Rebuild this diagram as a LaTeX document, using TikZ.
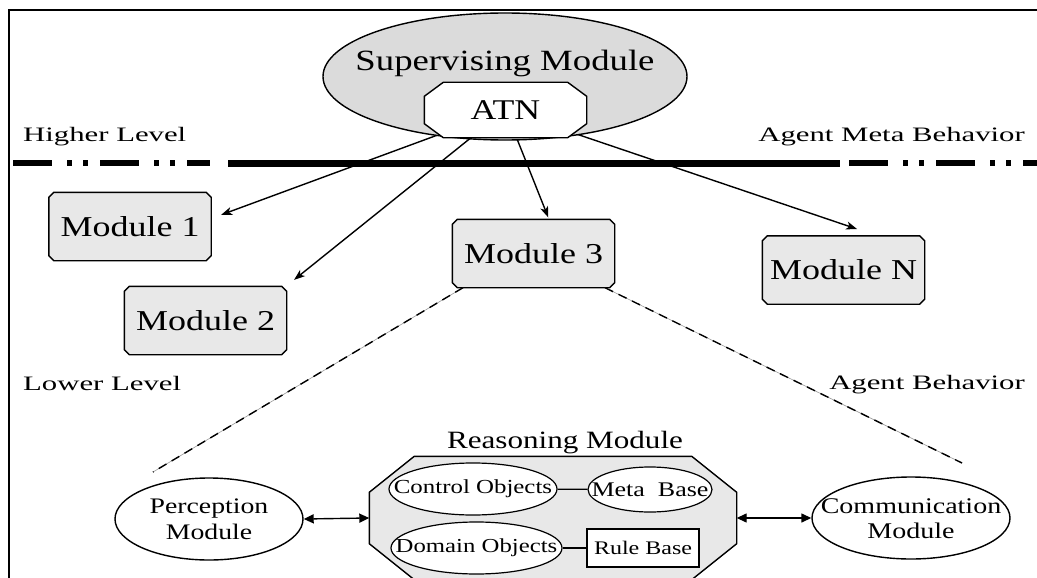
\documentclass[tikz,border=0pt]{standalone}
\usepackage{fontspec}
\setmainfont{Liberation Serif}[FakeStretch=1.25]
\newfontfamily\lblfont{Liberation Serif}[FakeStretch=1.5]
\usetikzlibrary{shapes.geometric,arrows.meta,calc,backgrounds}
\makeatletter
\newdimen\oct@xa \newdimen\oct@ya \newdimen\oct@xb \newdimen\oct@yb
\newdimen\oct@cx \newdimen\oct@cy
\def\octcx{6pt}\def\octcy{6pt}
\tikzset{octcx/.code={\def\octcx{#1}}, octcy/.code={\def\octcy{#1}}}
\pgfdeclareshape{octo}{%
  \inheritsavedanchors[from=rectangle]%
  \inheritanchorborder[from=rectangle]%
  \inheritanchor[from=rectangle]{center}%
  \inheritanchor[from=rectangle]{north}%
  \inheritanchor[from=rectangle]{south}%
  \inheritanchor[from=rectangle]{east}%
  \inheritanchor[from=rectangle]{west}%
  \inheritanchor[from=rectangle]{north east}%
  \inheritanchor[from=rectangle]{north west}%
  \inheritanchor[from=rectangle]{south east}%
  \inheritanchor[from=rectangle]{south west}%
  \inheritanchor[from=rectangle]{text}%
  \inheritanchor[from=rectangle]{base}%
  \inheritanchor[from=rectangle]{mid}%
  \backgroundpath{%
    \southwest \oct@xa=\pgf@x \oct@ya=\pgf@y
    \northeast \oct@xb=\pgf@x \oct@yb=\pgf@y
    \pgfmathsetlength\oct@cx{\octcx}%
    \pgfmathsetlength\oct@cy{\octcy}%
    \pgfpathmoveto{\pgfqpoint{\dimexpr\oct@xa+\oct@cx\relax}{\oct@ya}}%
    \pgfpathlineto{\pgfqpoint{\dimexpr\oct@xb-\oct@cx\relax}{\oct@ya}}%
    \pgfpathlineto{\pgfqpoint{\oct@xb}{\dimexpr\oct@ya+\oct@cy\relax}}%
    \pgfpathlineto{\pgfqpoint{\oct@xb}{\dimexpr\oct@yb-\oct@cy\relax}}%
    \pgfpathlineto{\pgfqpoint{\dimexpr\oct@xb-\oct@cx\relax}{\oct@yb}}%
    \pgfpathlineto{\pgfqpoint{\dimexpr\oct@xa+\oct@cx\relax}{\oct@yb}}%
    \pgfpathlineto{\pgfqpoint{\oct@xa}{\dimexpr\oct@yb-\oct@cy\relax}}%
    \pgfpathlineto{\pgfqpoint{\oct@xa}{\dimexpr\oct@ya+\oct@cy\relax}}%
    \pgfpathclose
  }%
}
\makeatother
\begin{document}
\begin{tikzpicture}[x=1pt,y=-1pt,
  mod/.style={octo, octcx=5pt, octcy=5pt,
    draw, line width=1.4pt, fill=black!9, minimum width=161pt, minimum height=67pt,
    inner sep=0pt, font=\fontsize{28.8}{32}\selectfont},
  lbl/.style={inner sep=0pt, font=\lblfont\fontsize{20.5}{24}\selectfont},
  arr/.style={line width=1.4pt, -{Stealth[length=11pt,width=8pt,inset=3pt]}},
  dbl/.style={line width=1.4pt, {Triangle[length=10pt,width=9pt]}-{Triangle[length=10pt,width=9pt]}},
  obj/.style={ellipse, draw, line width=1.2pt, fill=white, inner sep=0pt},
  bigell/.style={ellipse, draw, line width=1.4pt, fill=white, inner sep=0pt},
  lowdash/.style={draw=black!40, line width=0.6pt,
    postaction={draw=black, line width=1.4pt, dash pattern=on 9pt off 6pt}},
  ddash/.style={line width=6.5pt, dash pattern=on 39pt off 15pt on 5pt off 11pt on 5pt off 12pt}
]
\clip (0,0) rectangle (1037,578);
\begin{scope}[on background layer]
  \fill[white] (0,0) rectangle (1037,578);
\end{scope}

% frame
\draw[line width=2pt] (9,590) -- (9,10.5) -- (1045,10.5);

% level separator
\draw[ddash] (13,163) -- (210,163);
\draw[line width=7pt] (228,163) -- (840,163);
\draw[ddash] (849,163) -- (1045,163);

% supervising module
\node[ellipse, draw, line width=1.4pt, fill=black!14, minimum width=364pt, minimum height=127pt, inner sep=0pt] (sup) at (505,76.5) {};
\node[anchor=base, inner sep=0pt, font=\fontsize{29.4}{34}\selectfont] (suptxt) at (505,71) {Supervising Module};
\node[octo, octcx=19pt, octcy=14pt,
  draw, line width=1.4pt, fill=white, minimum width=161pt, minimum height=54pt, inner sep=0pt,
  font=\fontsize{28.6}{32}\selectfont] (atn) at (505.5,110) {ATN};

% labels
\node[lbl, anchor=base west] (hl) at (23,141) {Higher Level};
\node[lbl, anchor=base east] (amb) at (1025,142) {Agent Meta Behavior};
\node[lbl, anchor=base west] (ll) at (23,390) {Lower Level};
\node[lbl, anchor=base east] (ab) at (1025,389) {Agent Behavior};

% modules
\node[mod] (m1) at (130,226.5) {Module 1};
\node[mod] (m2) at (205.5,320.5) {Module 2};
\node[mod] (m3) at (533.5,253.5) {Module 3};
\node[mod] (mn) at (843.5,270) {Module N};

\begin{scope}[on background layer]
  \draw[arr, shorten >=10.6pt] (atn.center) -- ($(m1.east)+(0,-8)$);
  \draw[arr, shorten >=10.3pt] (atn.center) -- ($(m2.north)+(80.5,0)$);
  \draw[arr, shorten >=2pt] (atn.center) -- ($(m3.north)+(15.5,0)$);
  \draw[arr, shorten >=21pt] (atn.center) -- ($(mn.north)+(33.5,0)$);
\end{scope}

% dashed expansion of module 3
\coordinate (dl) at (153,472);
\coordinate (dr) at (962,463);
\draw[lowdash] ($(m3.south)+(-70.5,0)$) -- (dl);
\draw[lowdash] ($(m3.south)+(71.5,0)$) -- (dr);

% reasoning module
\node[anchor=base, inner sep=0pt, font=\fontsize{24.9}{28}\selectfont] (rtxt) at (565,448) {Reasoning Module};
\node[octo, octcx=45pt, octcy=36pt,
  draw, line width=1.4pt, fill=black!9, minimum width=366pt, minimum height=122pt, inner sep=0pt] (reas) at (553,518) {};
\node[obj, minimum width=168pt, minimum height=52pt, font=\fontsize{19.9}{22}\selectfont] (ctrl) at (473,489) {\makebox[0pt]{Control Objects}};
\node[obj, minimum width=124pt, minimum height=45pt, font=\fontsize{20.8}{22}\selectfont] (meta) at (650,489.5) {\makebox[0pt]{Meta~~Base}};
\node[obj, minimum width=171pt, minimum height=52pt, font=\fontsize{19.8}{22}\selectfont] (dom) at (476.5,548) {\makebox[0pt]{Domain Objects}};
\node[rectangle, draw, line width=1.2pt, fill=white, minimum width=112pt, minimum height=38pt, inner sep=0pt, font=\fontsize{19.2}{22}\selectfont] (rule) at (643,548) {Rule Base};
\draw[line width=1.2pt] (ctrl) -- (meta);
\draw[line width=1.2pt] (dom) -- (rule);

% perception and communication
\node[bigell, minimum width=188pt, minimum height=82pt] (perc) at (209,519) {};
\node[align=center, inner sep=0pt, font=\fontsize{22.2}{26}\selectfont] (percT) at (209,519.5) {Perception\\Module};
\node[bigell, minimum width=198pt, minimum height=82pt] (comm) at (911,518) {};
\node[align=center, inner sep=0pt, font=\fontsize{22.4}{25}\selectfont] (commT) at (911,518.5) {Communication\\Module};

\draw[dbl] (perc.east) -- (reas.west);
\draw[dbl] (reas.east) -- (comm.west);
\end{tikzpicture}
\end{document}
